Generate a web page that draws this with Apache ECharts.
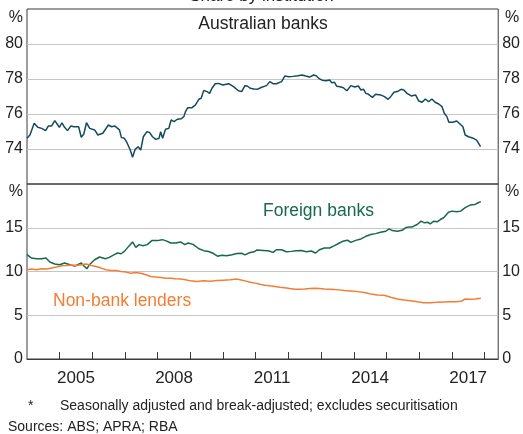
<!DOCTYPE html>
<html>
<head>
<meta charset="utf-8">
<script src="https://cdn.jsdelivr.net/npm/echarts@6/dist/echarts.min.js"></script>
<style>
  html,body{margin:0;padding:0;background:#fff}
  #chart{width:523px;height:434px}
</style>
</head>
<body>
<div id="chart"></div>
<script>
// [decimal year, per cent share]
const australianBanks = [
  [2004.00,74.61],[2004.09,74.80],[2004.22,75.47],[2004.33,75.24],[2004.45,75.18],[2004.57,75.05],
  [2004.65,75.31],[2004.75,75.31],[2004.85,75.62],[2004.91,75.66],[2004.99,75.24],[2005.07,75.50],
  [2005.15,75.24],[2005.24,75.05],[2005.34,75.31],[2005.44,75.27],[2005.58,75.27],[2005.66,74.67],
  [2005.74,74.86],[2005.82,75.50],[2005.92,75.18],[2006.07,75.09],[2006.17,74.80],[2006.32,74.90],
  [2006.49,75.37],[2006.59,75.27],[2006.69,75.31],[2006.83,75.09],[2006.89,74.65],[2006.98,74.61],
  [2007.06,74.36],[2007.16,73.94],[2007.23,73.53],[2007.31,73.98],[2007.40,74.13],[2007.48,73.94],
  [2007.56,74.70],[2007.67,74.99],[2007.75,74.95],[2007.84,74.70],[2007.94,74.55],[2008.04,74.61],
  [2008.09,74.99],[2008.15,74.61],[2008.24,75.13],[2008.34,75.18],[2008.41,75.66],[2008.50,75.56],
  [2008.60,75.70],[2008.72,75.73],[2008.80,75.85],[2008.85,76.13],[2008.92,76.36],[2009.05,76.36],
  [2009.15,76.51],[2009.26,76.84],[2009.33,76.90],[2009.41,77.35],[2009.51,77.28],[2009.59,77.18],
  [2009.66,77.47],[2009.76,77.73],[2009.86,77.75],[2009.99,77.66],[2010.17,77.73],[2010.32,77.56],
  [2010.47,77.33],[2010.57,77.28],[2010.67,77.62],[2010.74,77.60],[2010.83,77.47],[2010.95,77.43],
  [2011.05,77.41],[2011.18,77.53],[2011.33,77.62],[2011.43,77.85],[2011.53,77.73],[2011.63,77.73],
  [2011.79,77.85],[2011.89,78.17],[2012.02,78.13],[2012.14,78.15],[2012.29,78.19],[2012.42,78.23],
  [2012.53,78.17],[2012.65,78.11],[2012.77,78.23],[2012.85,78.19],[2012.93,78.04],[2013.03,77.93],
  [2013.15,77.90],[2013.26,77.94],[2013.33,77.79],[2013.41,77.81],[2013.48,77.58],[2013.58,77.56],
  [2013.68,77.50],[2013.79,77.33],[2013.91,77.62],[2014.03,77.54],[2014.14,77.60],[2014.22,77.37],
  [2014.30,77.41],[2014.37,77.18],[2014.44,77.14],[2014.50,77.09],[2014.57,76.95],[2014.67,77.13],
  [2014.82,77.09],[2014.94,76.99],[2015.05,76.84],[2015.13,76.99],[2015.23,77.24],[2015.33,77.28],
  [2015.45,77.41],[2015.53,77.37],[2015.63,77.18],[2015.76,77.03],[2015.89,77.09],[2015.99,76.74],
  [2016.09,76.67],[2016.19,76.86],[2016.29,76.70],[2016.39,76.86],[2016.49,76.67],[2016.60,76.57],
  [2016.70,76.42],[2016.77,76.04],[2016.85,75.85],[2016.91,75.53],[2017.03,75.53],[2017.15,75.60],
  [2017.25,75.43],[2017.34,75.27],[2017.41,74.80],[2017.51,74.70],[2017.66,74.61],[2017.76,74.51],
  [2017.88,74.13]
];
const foreignBanks = [
  [2004.00,11.92],[2004.14,11.54],[2004.29,11.46],[2004.45,11.46],[2004.58,11.54],[2004.70,11.08],
  [2004.85,10.85],[2005.00,10.77],[2005.15,10.97],[2005.31,10.77],[2005.46,10.62],[2005.66,10.97],
  [2005.73,10.69],[2005.83,10.31],[2005.91,10.77],[2006.07,11.34],[2006.22,11.66],[2006.40,11.46],
  [2006.52,11.61],[2006.67,11.92],[2006.77,12.11],[2006.88,12.03],[2006.98,12.30],[2007.11,12.87],
  [2007.23,13.38],[2007.33,12.76],[2007.43,13.07],[2007.55,12.95],[2007.68,13.07],[2007.82,13.53],
  [2007.99,13.53],[2008.14,13.64],[2008.24,13.53],[2008.40,13.26],[2008.55,13.26],[2008.70,13.38],
  [2008.83,13.07],[2008.93,13.26],[2009.08,13.10],[2009.26,12.60],[2009.41,12.38],[2009.56,12.28],
  [2009.71,12.05],[2009.83,11.75],[2009.96,11.86],[2010.11,11.80],[2010.27,11.92],[2010.42,12.05],
  [2010.57,12.08],[2010.67,11.90],[2010.83,12.17],[2010.95,12.25],[2011.03,12.45],[2011.23,12.41],
  [2011.38,12.38],[2011.53,12.19],[2011.63,12.49],[2011.79,12.49],[2011.94,12.26],[2012.09,12.30],
  [2012.24,12.38],[2012.39,12.41],[2012.55,12.26],[2012.70,12.34],[2012.83,12.11],[2012.95,12.49],
  [2013.10,12.69],[2013.26,12.69],[2013.41,12.95],[2013.56,13.26],[2013.66,13.45],[2013.81,13.58],
  [2013.91,13.33],[2014.06,13.56],[2014.22,13.72],[2014.37,14.02],[2014.52,14.22],[2014.67,14.33],
  [2014.82,14.48],[2014.98,14.60],[2015.08,14.87],[2015.18,14.68],[2015.33,14.60],[2015.48,14.71],
  [2015.58,14.99],[2015.69,15.10],[2015.79,15.10],[2015.94,15.37],[2016.06,15.75],[2016.16,15.56],
  [2016.26,15.63],[2016.34,15.45],[2016.45,15.75],[2016.55,15.68],[2016.65,15.94],[2016.75,16.14],
  [2016.90,16.78],[2017.00,16.90],[2017.15,16.83],[2017.27,16.90],[2017.41,17.29],[2017.56,17.59],
  [2017.71,17.67],[2017.81,17.86],[2017.89,17.98]
];
const nonBankLenders = [
  [2004.00,10.20],[2004.14,10.28],[2004.29,10.20],[2004.45,10.31],[2004.60,10.28],[2004.75,10.39],
  [2004.90,10.51],[2005.05,10.66],[2005.21,10.69],[2005.36,10.74],[2005.51,10.69],[2005.66,10.77],
  [2005.81,10.85],[2005.97,10.69],[2006.12,10.57],[2006.27,10.39],[2006.42,10.20],[2006.57,10.11],
  [2006.72,10.11],[2006.88,10.00],[2007.03,9.93],[2007.18,9.81],[2007.33,9.89],[2007.48,9.81],
  [2007.64,9.62],[2007.79,9.43],[2007.94,9.36],[2008.09,9.31],[2008.24,9.24],[2008.40,9.24],
  [2008.55,9.16],[2008.70,9.13],[2008.85,9.05],[2009.00,8.93],[2009.20,8.85],[2009.41,8.93],
  [2009.61,8.89],[2009.81,8.97],[2010.01,9.01],[2010.22,9.05],[2010.42,9.13],[2010.52,9.05],
  [2010.67,8.93],[2010.83,8.78],[2010.98,8.67],[2011.13,8.55],[2011.28,8.44],[2011.43,8.36],
  [2011.59,8.28],[2011.74,8.20],[2011.89,8.13],[2012.04,8.05],[2012.19,7.98],[2012.34,7.98],
  [2012.50,8.01],[2012.65,8.05],[2012.80,8.09],[2012.95,8.05],[2013.10,8.01],[2013.26,7.98],
  [2013.41,7.93],[2013.56,7.90],[2013.71,7.82],[2013.91,7.78],[2014.12,7.70],[2014.32,7.59],
  [2014.52,7.44],[2014.72,7.32],[2014.93,7.29],[2015.13,7.06],[2015.33,6.86],[2015.53,6.75],
  [2015.73,6.67],[2015.94,6.55],[2016.14,6.44],[2016.34,6.44],[2016.55,6.48],[2016.75,6.52],
  [2016.95,6.55],[2017.15,6.55],[2017.30,6.63],[2017.41,6.86],[2017.56,6.82],[2017.71,6.86],
  [2017.89,6.94]
];
const yearTicks = [2005,2006,2007,2008,2009,2010,2011,2012,2013,2014,2015,2016,2017,2018];
const yearLabels = [2005,2008,2011,2014,2017];

const FONT = '"Liberation Sans", Arial, sans-serif';
const AUS = '#124b5d', FOR = '#17694a', NBL = '#f47d32';
const X_MIN = 2004, X_MAX = 2018.42;

const chart = echarts.init(document.getElementById('chart'), null, {renderer:'canvas'});

const yLab = (hide) => ({
  fontFamily: FONT, fontSize: 16, color: '#222', margin: 4,
  formatter: v => hide.includes(v) ? '' : String(v)
});
const split = {show:true, showMinLine:false, showMaxLine:false, lineStyle:{color:'#c6c6c6', width:1}};

chart.setOption({
  animation: false,
  grid: [
    {left:27, right:22, top:9, height:175, show:true, borderColor:'#3a3a3a', borderWidth:1},
    {left:27, right:22, top:184, height:175, show:true, borderColor:'#3a3a3a', borderWidth:1}
  ],
  xAxis: [
    {gridIndex:0, type:'value', min:X_MIN, max:X_MAX, show:false},
    {gridIndex:1, type:'value', min:X_MIN, max:X_MAX,
      axisLine:{show:true, lineStyle:{color:'#3a3a3a'}},
      axisTick:{show:true, inside:true, length:7, customValues:yearTicks, lineStyle:{color:'#3a3a3a'}},
      axisLabel:{customValues:yearLabels.map(y => y + 0.5), formatter: v => String(Math.floor(v)),
        fontFamily:FONT, fontSize:17, color:'#222', margin:11},
      splitLine:{show:false}}
  ],
  yAxis: [
    {gridIndex:0, type:'value', position:'left', min:72, max:82, interval:2,
      axisLabel:yLab([72,82]), splitLine:split, axisTick:{show:false}, axisLine:{show:false}},
    {gridIndex:0, type:'value', position:'right', min:72, max:82, interval:2,
      axisLabel:yLab([72,82]), splitLine:{show:false}, axisTick:{show:false}, axisLine:{show:false}},
    {gridIndex:1, type:'value', position:'left', min:0, max:20, interval:5,
      axisLabel:yLab([20]), splitLine:split, axisTick:{show:false}, axisLine:{show:false}},
    {gridIndex:1, type:'value', position:'right', min:0, max:20, interval:5,
      axisLabel:yLab([20]), splitLine:{show:false}, axisTick:{show:false}, axisLine:{show:false}}
  ],
  series: [
    {name:'Australian banks', type:'line', xAxisIndex:0, yAxisIndex:0, data:australianBanks,
      showSymbol:false, lineStyle:{color:AUS, width:1.5}},
    {name:'Foreign banks', type:'line', xAxisIndex:1, yAxisIndex:2, data:foreignBanks,
      showSymbol:false, lineStyle:{color:FOR, width:1.5}},
    {name:'Non-bank lenders', type:'line', xAxisIndex:1, yAxisIndex:2, data:nonBankLenders,
      showSymbol:false, lineStyle:{color:NBL, width:1.5}}
  ],
  graphic: [
    {type:'text', left:'center', top:-12, style:{text:'Share by institution', font:'17px ' + FONT, fill:'#222'}},
    {type:'text', x:263, y:24, style:{text:'Australian banks', font:'17.5px ' + FONT, fill:'#222', align:'center', verticalAlign:'middle'}},
    {type:'text', x:263, y:211, style:{text:'Foreign banks', font:'17.5px ' + FONT, fill:FOR, align:'left', verticalAlign:'middle'}},
    {type:'text', x:53, y:301, style:{text:'Non-bank lenders', font:'17.5px ' + FONT, fill:NBL, align:'left', verticalAlign:'middle'}},
    {type:'text', x:23, y:18, style:{text:'%', font:'16px ' + FONT, fill:'#222', align:'right', verticalAlign:'middle'}},
    {type:'text', x:505, y:18, style:{text:'%', font:'16px ' + FONT, fill:'#222', align:'left', verticalAlign:'middle'}},
    {type:'text', x:23, y:192, style:{text:'%', font:'16px ' + FONT, fill:'#222', align:'right', verticalAlign:'middle'}},
    {type:'text', x:505, y:192, style:{text:'%', font:'16px ' + FONT, fill:'#222', align:'left', verticalAlign:'middle'}},
    {type:'text', x:28, y:406, style:{text:'*', font:'14px ' + FONT, fill:'#222', verticalAlign:'middle'}},
    {type:'text', x:60, y:406, style:{text:'Seasonally adjusted and break-adjusted; excludes securitisation', font:'14px ' + FONT, fill:'#222', verticalAlign:'middle'}},
    {type:'text', x:8, y:427, style:{text:'Sources: ABS; APRA; RBA', font:'14px ' + FONT, fill:'#222', verticalAlign:'middle'}}
  ]
});
</script>
</body>
</html>
